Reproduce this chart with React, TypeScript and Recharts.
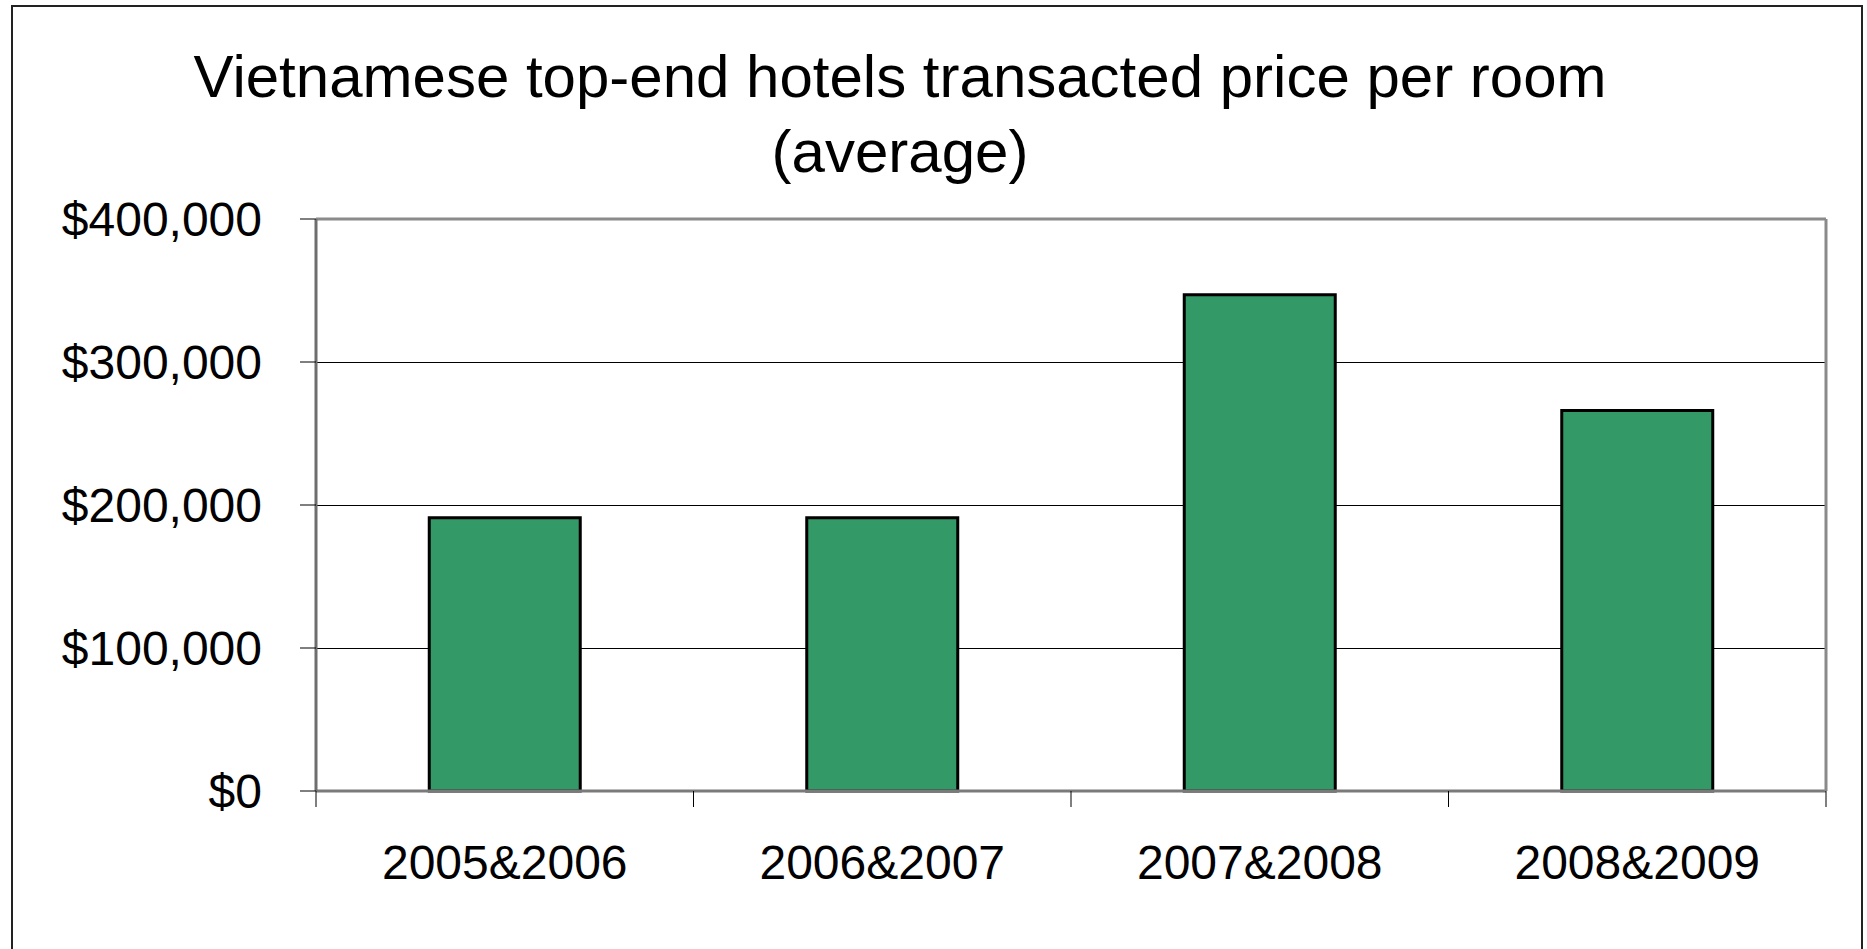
import { Bar, BarChart, CartesianGrid, ReferenceLine, XAxis, YAxis } from 'recharts';

const periods = ['2005&2006', '2006&2007', '2007&2008', '2008&2009'];
const avgPricePerRoom = [191000, 191000, 347000, 266000];
const priceTicks = [0, 100000, 200000, 300000, 400000];
const slotEdges = [0, 1, 2, 3, 4];
const titleLines = ['Vietnamese top-end hotels transacted price per room', '(average)'];

// slot = centre of each category on a 0..4 numeric scale, used only for the boundary ticks
const data = periods.map((period, i) => ({ period, price: avgPricePerRoom[i], slot: i + 0.5 }));

const FONT = '"Liberation Sans", Arial, sans-serif';

export default function App() {
    return (
        <div
            style={{
                position: 'fixed',
                left: 0,
                top: 0,
                width: 1867,
                height: 949,
                overflow: 'hidden',
                background: '#fff',
                fontFamily: FONT,
            }}
        >
            <div
                style={{
                    position: 'absolute',
                    left: 11,
                    top: 5,
                    width: 1852,
                    height: 1000,
                    boxSizing: 'border-box',
                    border: '2px solid #222',
                }}
            />
            <svg width={1867} height={200} style={{ position: 'absolute', left: 0, top: 0 }}>
                <text x={900} y={97} textAnchor="middle" fontSize={60} fontFamily={FONT} fill="#000">
                    {titleLines[0]}
                </text>
                <text x={900} y={172} textAnchor="middle" fontSize={60} fontFamily={FONT} fill="#000">
                    {titleLines[1]}
                </text>
            </svg>
            <div style={{ position: 'absolute', left: 0, top: 0 }}>
                <BarChart
                    width={1867}
                    height={949}
                    data={data}
                    margin={{ top: 219, right: 40, left: 0, bottom: 0 }}
                    barCategoryGap="30%"
                >
                    <CartesianGrid
                        xAxisId="periods"
                        horizontal
                        vertical={false}
                        stroke="#000"
                        strokeWidth={1}
                        shapeRendering="crispEdges"
                    />
                    <XAxis
                        xAxisId="axisEdges"
                        type="number"
                        dataKey="slot"
                        domain={[0, 4]}
                        allowDataOverflow
                        ticks={slotEdges}
                        interval={0}
                        height={1}
                        tickFormatter={() => ''}
                        tick={{ fontSize: 1 }}
                        tickSize={16}
                        tickLine={{ stroke: '#000', strokeWidth: 1 }}
                        axisLine={{ stroke: '#7a7a7a', strokeWidth: 3 }}
                    />
                    <XAxis
                        xAxisId="periods"
                        dataKey="period"
                        height={157}
                        axisLine={false}
                        tickLine={false}
                        tickSize={0}
                        tickMargin={53}
                        interval={0}
                        tick={{ fill: '#000', fontSize: 48, fontFamily: FONT }}
                    />
                    <YAxis
                        width={316}
                        domain={[0, 400000]}
                        ticks={priceTicks}
                        interval={0}
                        tickFormatter={(v: number) => `$${v.toLocaleString('en-US')}`}
                        tickSize={16}
                        tickMargin={38}
                        tickLine={{ stroke: '#000', strokeWidth: 1 }}
                        axisLine={{ stroke: '#6e6e6e', strokeWidth: 3 }}
                        tick={{ fill: '#000', fontSize: 48, fontFamily: FONT }}
                    />
                    <YAxis
                        yAxisId="frame"
                        orientation="right"
                        width={1}
                        domain={[0, 1]}
                        tick={false}
                        tickLine={false}
                        axisLine={{ stroke: '#8a8a8a', strokeWidth: 3 }}
                    />
                    <ReferenceLine xAxisId="periods" y={400000} stroke="#8a8a8a" strokeWidth={3} ifOverflow="visible" />
                    <Bar
                        xAxisId="periods"
                        dataKey="price"
                        fill="#339966"
                        stroke="#000"
                        strokeWidth={3}
                        isAnimationActive={false}
                    />
                </BarChart>
            </div>
        </div>
    );
}
